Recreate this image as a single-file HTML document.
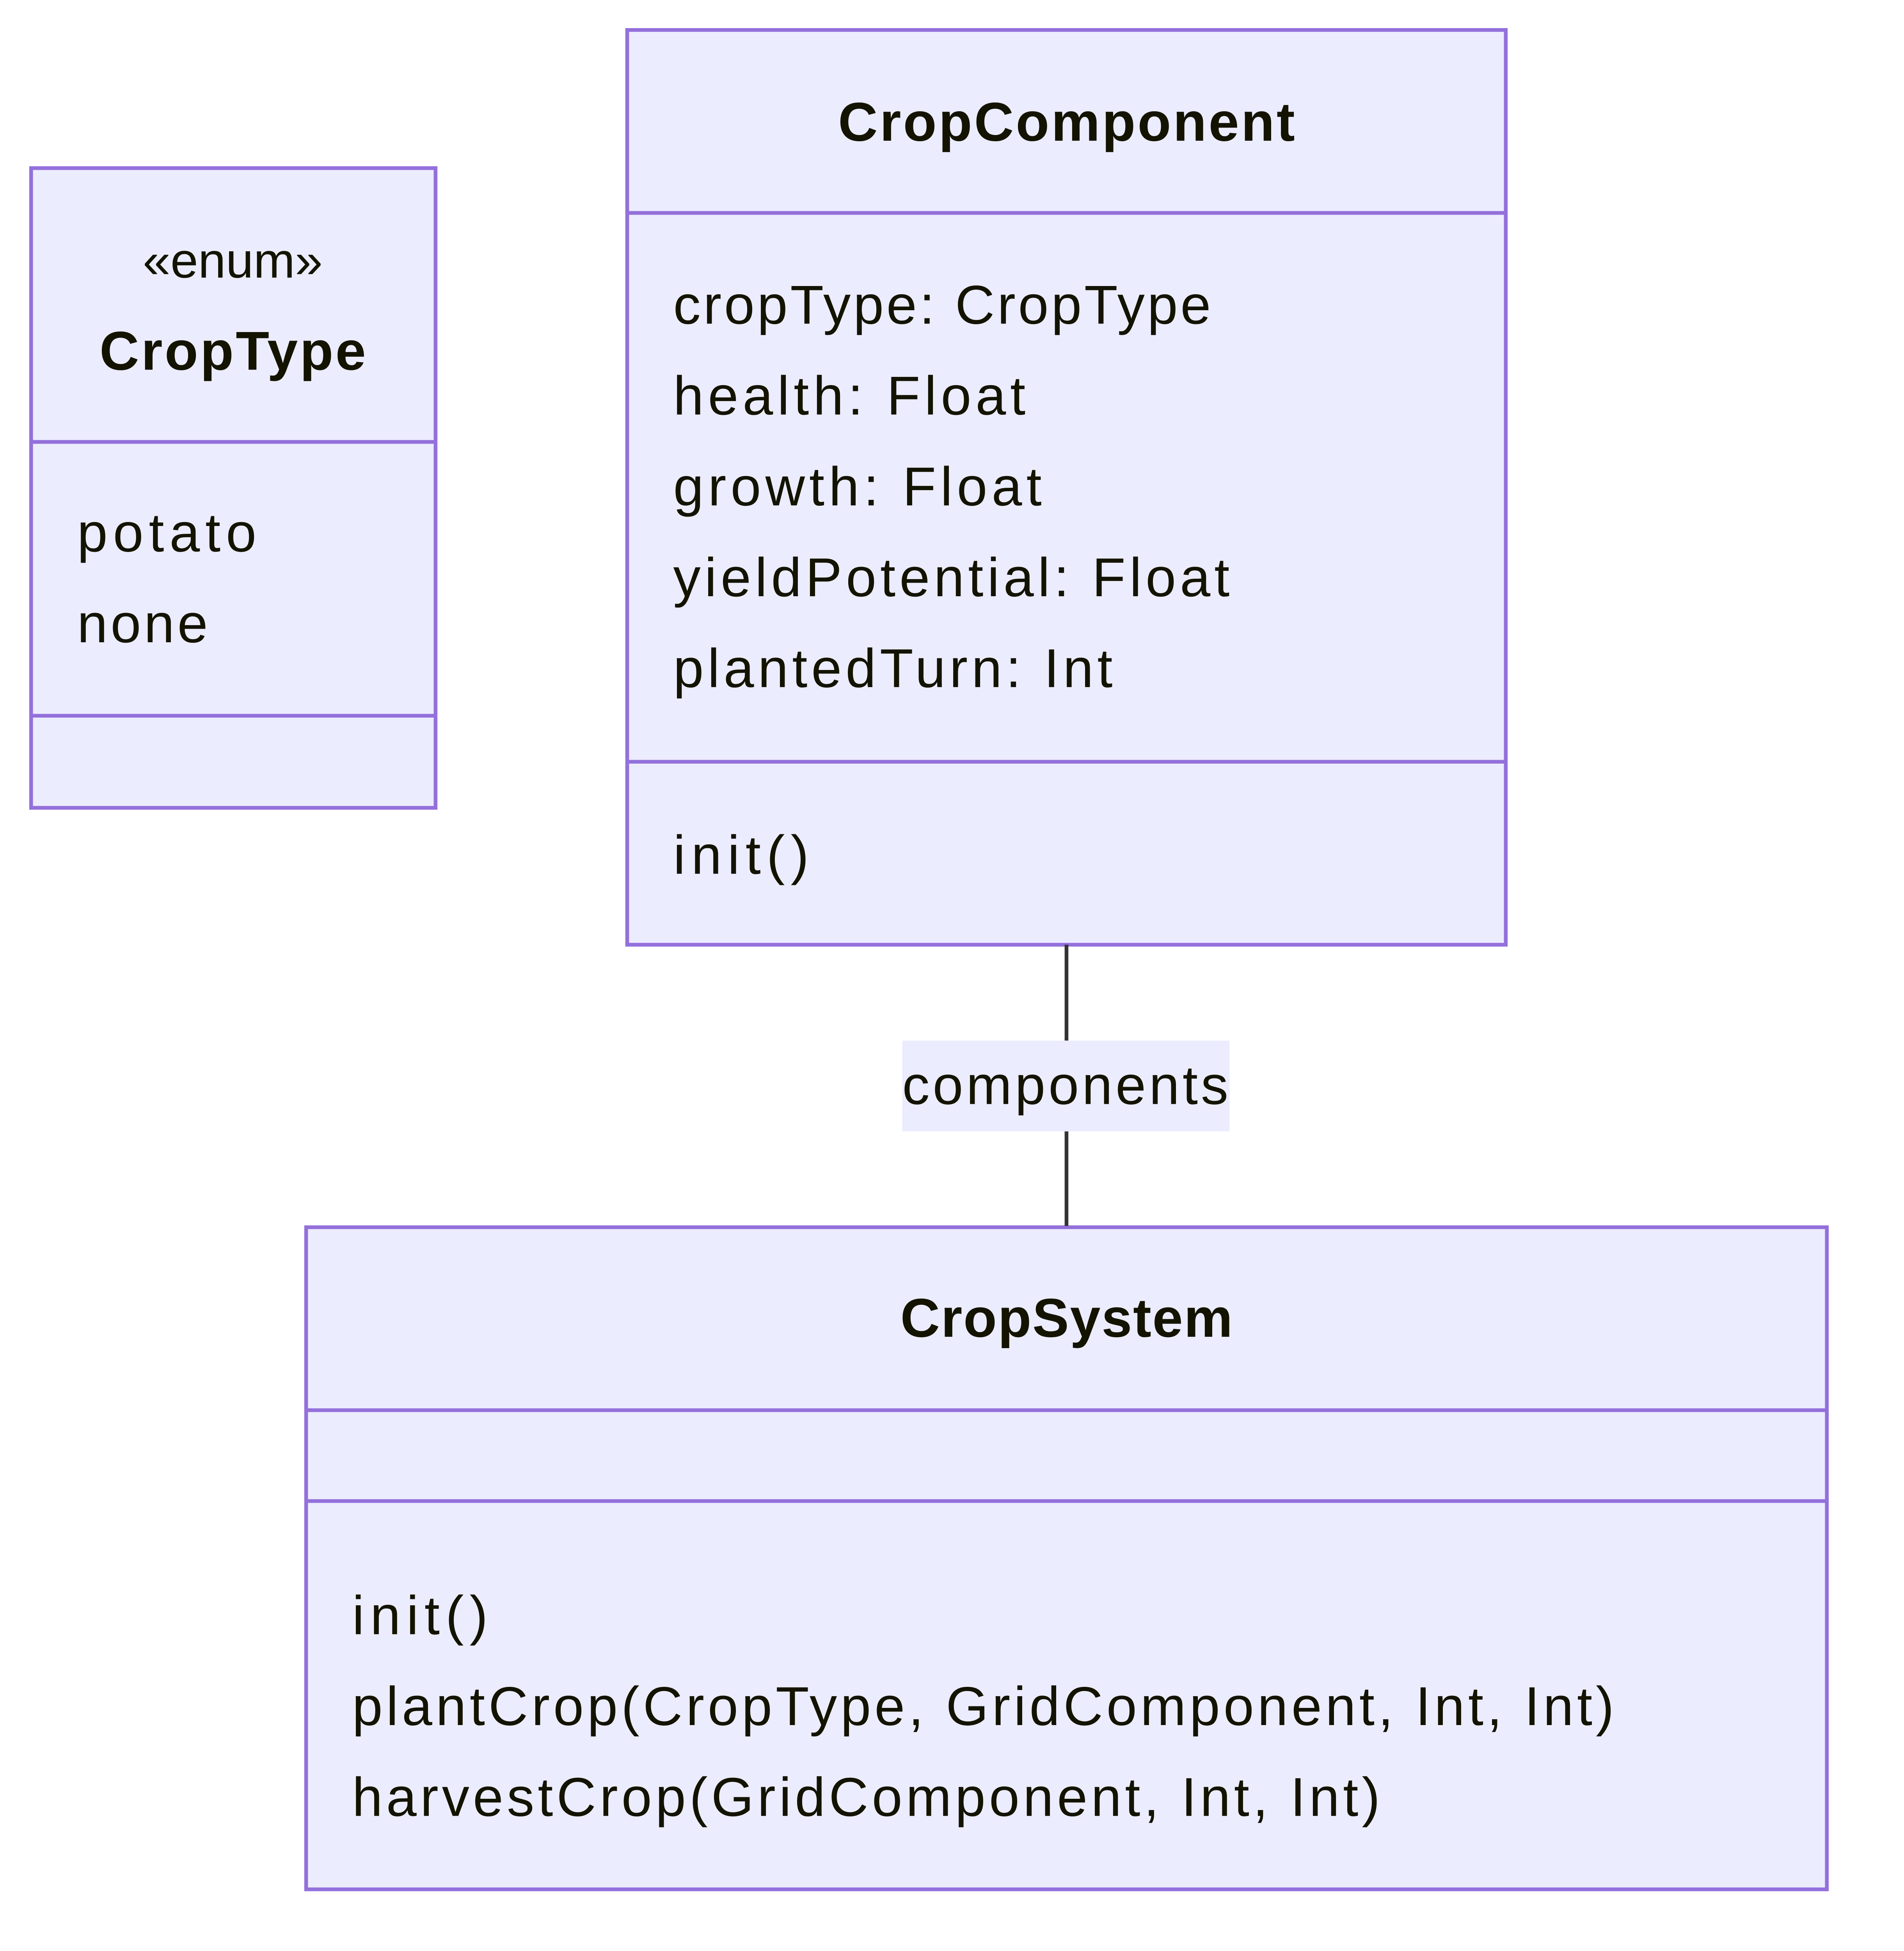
<!DOCTYPE html>
<html><head><style>html,body{margin:0;padding:0;background:#fff;width:4880px;height:5040px;overflow:hidden}svg{display:block}</style></head>
<body>
<svg width="4880" height="5040" viewBox="0 0 1530 1580" xmlns="http://www.w3.org/2000/svg" font-family="'Liberation Sans', 'DejaVu Sans', sans-serif" fill="#131300">
<g stroke="#9370DB" stroke-width="3" fill="#ECECFF">
<rect x="25" y="135" width="325" height="514"/>
<line x1="25" y1="355" x2="350" y2="355"/>
<line x1="25" y1="575" x2="350" y2="575"/>
<rect x="504" y="24" width="706" height="735"/>
<line x1="504" y1="171" x2="1210" y2="171"/>
<line x1="504" y1="612" x2="1210" y2="612"/>
<rect x="246" y="986" width="1222" height="532"/>
<line x1="246" y1="1133" x2="1468" y2="1133"/>
<line x1="246" y1="1206" x2="1468" y2="1206"/>
</g>
<line x1="857" y1="759" x2="857" y2="985" stroke="#333" stroke-width="3"/>
<rect x="725" y="836" width="263" height="73" fill="#ECECFF"/>
<g font-size="44">
<text x="187" y="223" text-anchor="middle" font-size="40">«enum»</text>
<text x="187" y="297" text-anchor="middle" font-weight="bold" textLength="214">CropType</text>
<text x="62" y="443" textLength="144">potato</text>
<text x="62" y="516" textLength="105">none</text>
<text x="857" y="113" text-anchor="middle" font-weight="bold" textLength="367">CropComponent</text>
<text x="541" y="260" textLength="432">cropType: CropType</text>
<text x="541" y="333" textLength="283">health: Float</text>
<text x="541" y="406" textLength="296">growth: Float</text>
<text x="541" y="479" textLength="447">yieldPotential: Float</text>
<text x="541" y="552" textLength="353">plantedTurn: Int</text>
<text x="541" y="702" textLength="109">init()</text>
<text x="856" y="887" text-anchor="middle" textLength="262">components</text>
<text x="857" y="1074" text-anchor="middle" font-weight="bold" textLength="267">CropSystem</text>
<text x="283" y="1313" textLength="109">init()</text>
<text x="283" y="1386" textLength="1014">plantCrop(CropType, GridComponent, Int, Int)</text>
<text x="283" y="1459" textLength="826">harvestCrop(GridComponent, Int, Int)</text>
</g>
</svg>
</body></html>
